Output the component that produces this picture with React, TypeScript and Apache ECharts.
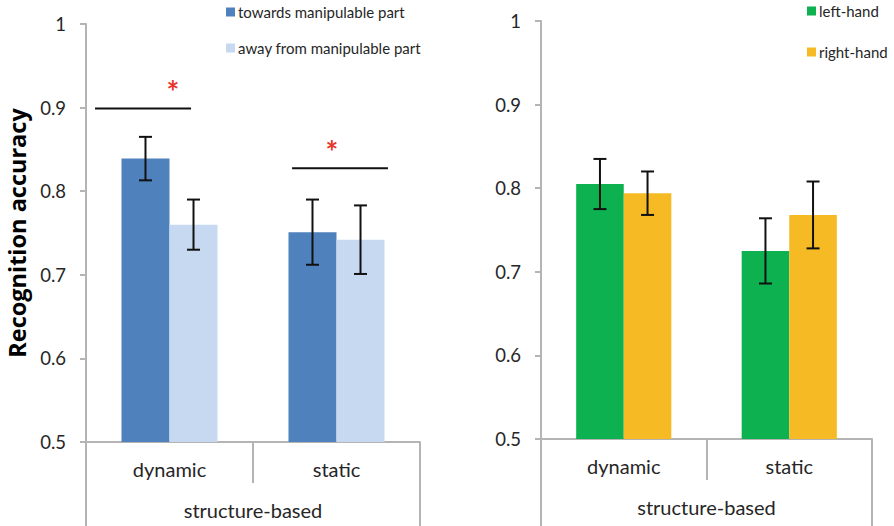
import React, { useEffect, useRef } from "react";
import * as echarts from "echarts";

const categories = ["dynamic", "static"];
const groupLabel = ["structure-based"];

const towardsName = "towards manipulable part";
const awayName = "away from manipulable part";
const leftName = "left-hand";
const rightName = "right-hand";

const towards = [0.839, 0.751];
const towardsErr = [0.026, 0.039];
const away = [0.76, 0.742];
const awayErr = [0.03, 0.041];

const leftHand = [0.805, 0.725];
const leftErr = [0.03, 0.039];
const rightHand = [0.794, 0.768];
const rightErr = [0.026, 0.04];

// significance brackets on the left panel: category index and line level
const sigCats = [0, 1];
const sigLevels = [0.899, 0.8275];

const FONT = "Lato, 'Open Sans', sans-serif";
const AXIS_COLOR = "#b4b4b4";
const TEXT_COLOR = "#262626";
const GAP = 0.425;

// layout of the significance marks, as fractions of a category band
const SIG_SPAN = [
  [-0.446, 0.129, 0.02],
  [-0.266, 0.308, -0.027],
];

function errData(means: number[], errs: number[]) {
  return means.map((m, i) => [i, m - errs[i], m + errs[i]]);
}

function errSeries(
  name: string,
  means: number[],
  errs: number[],
  side: number,
  axisIndex: number
) {
  return {
    type: "custom",
    name: name + " err",
    xAxisIndex: axisIndex,
    yAxisIndex: axisIndex,
    z: 5,
    silent: true,
    encode: { x: 0, y: [1, 2] },
    data: errData(means, errs),
    renderItem: (params: any, api: any) => {
      const c = api.value(0);
      const lo = api.coord([c, api.value(1)]);
      const hi = api.coord([c, api.value(2)]);
      const band = api.size([1, 0])[0];
      const bw = (band * (1 - GAP)) / 2;
      const x = lo[0] + (side * bw) / 2;
      const cap = 6.5;
      const style = { stroke: "#111", lineWidth: 2 };
      return {
        type: "group",
        children: [
          { type: "line", shape: { x1: x, y1: lo[1], x2: x, y2: hi[1] }, style },
          { type: "line", shape: { x1: x - cap, y1: lo[1], x2: x + cap, y2: lo[1] }, style },
          { type: "line", shape: { x1: x - cap, y1: hi[1], x2: x + cap, y2: hi[1] }, style },
        ],
      };
    },
  };
}

function makeXAxes(gridIndex: number, longTick: number) {
  return [
    {
      type: "category",
      gridIndex,
      data: categories,
      boundaryGap: true,
      axisLine: { show: true, lineStyle: { color: AXIS_COLOR, width: 2 } },
      axisTick: { show: true, length: 41, interval: 0, lineStyle: { color: AXIS_COLOR, width: 2 } },
      axisLabel: { margin: 17, fontSize: 20, color: TEXT_COLOR, fontFamily: FONT, interval: 0 },
      splitLine: { show: false },
    },
    {
      type: "category",
      gridIndex,
      position: "bottom",
      data: groupLabel,
      boundaryGap: true,
      axisLine: { show: false },
      axisTick: { show: true, length: longTick, interval: 0, lineStyle: { color: AXIS_COLOR, width: 2 } },
      axisLabel: { margin: 58, fontSize: 20, color: TEXT_COLOR, fontFamily: FONT },
      splitLine: { show: false },
    },
  ];
}

function makeYAxis(gridIndex: number, withName: boolean) {
  return {
    type: "value",
    gridIndex,
    min: 0.5,
    max: 1,
    interval: 0.1,
    name: withName ? "Recognition accuracy" : "",
    nameLocation: "middle",
    nameRotate: 90,
    nameGap: 57,
    nameTextStyle: { fontSize: 23.5, fontWeight: "bold", color: "#000", fontFamily: "'Open Sans', sans-serif" },
    axisLine: { show: true, lineStyle: { color: AXIS_COLOR, width: 2 } },
    axisTick: { show: true, length: 6, lineStyle: { color: AXIS_COLOR, width: 2 } },
    axisLabel: { margin: 20, fontSize: 18.5, color: TEXT_COLOR, fontFamily: FONT },
    splitLine: { show: false },
  };
}

export default function App() {
  const ref = useRef<HTMLDivElement>(null);

  useEffect(() => {
    if (!ref.current) return;
    const chart = echarts.init(ref.current, undefined, { renderer: "svg" });

    const sigSeries = {
      type: "custom",
      name: "sig",
      xAxisIndex: 0,
      yAxisIndex: 0,
      z: 6,
      silent: true,
      encode: { x: 0, y: 1 },
      data: sigCats.map((c, i) => [c, sigLevels[i]]),
      renderItem: (params: any, api: any) => {
        const i = params.dataIndex;
        const p = api.coord([api.value(0), api.value(1)]);
        const band = api.size([1, 0])[0];
        const [f0, f1, fs] = SIG_SPAN[i];
        return {
          type: "group",
          children: [
            {
              type: "line",
              shape: { x1: p[0] + f0 * band, y1: p[1], x2: p[0] + f1 * band, y2: p[1] },
              style: { stroke: "#111", lineWidth: 2 },
            },
            {
              type: "text",
              x: p[0] + fs * band,
              y: p[1] - 17,
              style: {
                text: "*",
                fill: "#e8352c",
                fontSize: 30,
                fontWeight: "bold",
                fontFamily: FONT,
                align: "center",
                verticalAlign: "middle",
              },
            },
          ],
        };
      },
    };

    const barBase = { type: "bar", barGap: "0%", barCategoryGap: GAP * 100 + "%" };
    const legendText = { fontSize: 15, color: TEXT_COLOR, fontFamily: FONT, lineHeight: 16, padding: [0, 0, 0, -2] };

    chart.setOption({
      animation: false,
      textStyle: { fontFamily: FONT },
      grid: [
        { left: 86, top: 24, width: 334, height: 418 },
        { left: 541, top: 21, width: 331, height: 418 },
      ],
      legend: [
        {
          data: [towardsName, awayName],
          left: 226,
          top: 4,
          orient: "vertical",
          icon: "rect",
          itemWidth: 9,
          itemHeight: 9,
          itemGap: 20,
          padding: 0,
          selectedMode: false,
          textStyle: legendText,
        },
        {
          data: [leftName, rightName],
          left: 807,
          top: 3,
          orient: "vertical",
          icon: "rect",
          itemWidth: 9,
          itemHeight: 9,
          itemGap: 25,
          padding: 0,
          selectedMode: false,
          textStyle: legendText,
        },
      ],
      xAxis: [...makeXAxes(0, 90), ...makeXAxes(1, 90)],
      yAxis: [makeYAxis(0, true), makeYAxis(1, false)],
      series: [
        { ...barBase, name: towardsName, xAxisIndex: 0, yAxisIndex: 0, data: towards, itemStyle: { color: "#4f81bd" } },
        { ...barBase, name: awayName, xAxisIndex: 0, yAxisIndex: 0, data: away, itemStyle: { color: "#c6d9f0" } },
        { ...barBase, name: leftName, xAxisIndex: 2, yAxisIndex: 1, data: leftHand, itemStyle: { color: "#0db14f" } },
        { ...barBase, name: rightName, xAxisIndex: 2, yAxisIndex: 1, data: rightHand, itemStyle: { color: "#f6bb24" } },
        errSeries(towardsName, towards, towardsErr, -1, 0),
        errSeries(awayName, away, awayErr, 1, 0),
        { ...errSeries(leftName, leftHand, leftErr, -1, 2), yAxisIndex: 1 },
        { ...errSeries(rightName, rightHand, rightErr, 1, 2), yAxisIndex: 1 },
        sigSeries,
      ],
    });

    return () => chart.dispose();
  }, []);

  return (
    <div
      ref={ref}
      style={{ position: "fixed", left: 0, top: 0, width: 894, height: 526, background: "#fff" }}
    />
  );
}
